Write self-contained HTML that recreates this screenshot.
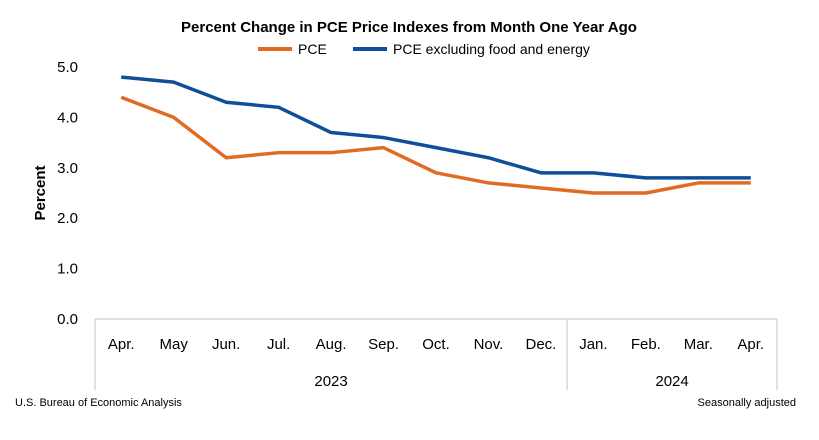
<!DOCTYPE html>
<html><head><meta charset="utf-8"><style>
body{margin:0;background:#fff;}
svg{display:block;font-family:"Liberation Sans",sans-serif;}
</style></head><body>
<svg id="c" width="819" height="440" viewBox="0 0 819 440">
<text x="409" y="32" text-anchor="middle" font-size="15" font-weight="bold" fill="#000">Percent Change in PCE Price Indexes from Month One Year Ago</text>
<g>
<line x1="258" y1="49" x2="292" y2="49" stroke="#E26B24" stroke-width="4"/>
<text x="298" y="54" font-size="14" fill="#000">PCE</text>
<line x1="353" y1="49" x2="387" y2="49" stroke="#0F4F98" stroke-width="4"/>
<text x="393" y="54" font-size="14" fill="#000">PCE excluding food and energy</text>
</g>
<text transform="translate(45,193) rotate(-90)" text-anchor="middle" font-size="15" font-weight="bold" fill="#000">Percent</text>
<text x="15" y="406" font-size="11" fill="#000">U.S. Bureau of Economic Analysis</text>
<text x="796" y="406" text-anchor="end" font-size="11" fill="#000">Seasonally adjusted</text>
</svg>
<script>
const categories=["Apr.","May","Jun.","Jul.","Aug.","Sep.","Oct.","Nov.","Dec.","Jan.","Feb.","Mar.","Apr."];
const pceValues=[4.4,4.0,3.2,3.3,3.3,3.4,2.9,2.7,2.6,2.5,2.5,2.7,2.7];
const coreValues=[4.8,4.7,4.3,4.2,3.7,3.6,3.4,3.2,2.9,2.9,2.8,2.8,2.8];
const yTicks=[0,1,2,3,4,5];
const yTickLabels=["0.0","1.0","2.0","3.0","4.0","5.0"];
const years=[{label:"2023",from:0,to:9},{label:"2024",from:9,to:13}];
const svg=document.getElementById('c');
const NS="http://www.w3.org/2000/svg";
const L=95,R=777,Y0=319,Y5=67;
const step=(R-L)/categories.length;
function x(i){return L+step*(i+0.5);}
function y(v){return Y0-(Y0-Y5)*v/5;}
function mk(t,a){const e=document.createElementNS(NS,t);for(const k in a)e.setAttribute(k,a[k]);svg.appendChild(e);return e;}
yTicks.forEach((v,i)=>{const t=mk('text',{x:78,y:y(v)+5,'text-anchor':'end','font-size':15,fill:'#000'});t.textContent=yTickLabels[i];

});
const ax=mk('line',{x1:L,y1:Y0,x2:R,y2:Y0,stroke:'#d9d9d9','stroke-width':1.5});


const bounds=[0,9,13];
bounds.forEach(b=>{const l=mk('line',{x1:L+step*b,y1:Y0,x2:L+step*b,y2:390,stroke:'#d9d9d9','stroke-width':1.5});

});
categories.forEach((c,i)=>{const t=mk('text',{x:x(i),y:349,'text-anchor':'middle','font-size':15,fill:'#000'});t.textContent=c;

});
years.forEach(g=>{const t=mk('text',{x:L+step*(g.from+g.to)/2,y:386,'text-anchor':'middle','font-size':15,fill:'#000'});t.textContent=g.label;

});
function line(vals,col,name){const p=mk('polyline',{points:vals.map((v,i)=>x(i)+','+y(v)).join(' '),fill:'none',stroke:col,'stroke-width':3.5,'stroke-linejoin':'round'});

}
line(pceValues,'#E26B24','pce-line');
line(coreValues,'#0F4F98','core-pce-line');
</script>
</body></html>
